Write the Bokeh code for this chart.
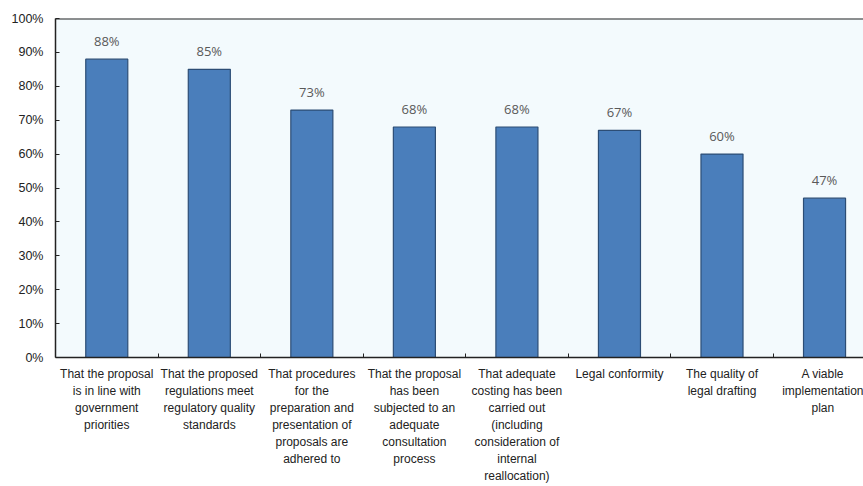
from bokeh.plotting import figure
from bokeh.models import Range1d, FixedTicker, Span, ColumnDataSource
from bokeh.core.properties import value
from bokeh.embed import file_html
from bokeh.resources import INLINE

categories = [
    "That the proposal\nis in line with\ngovernment\npriorities",
    "That the proposed\nregulations meet\nregulatory quality\nstandards",
    "That procedures\nfor the\npreparation and\npresentation of\nproposals are\nadhered to",
    "That the proposal\nhas been\nsubjected to an\nadequate\nconsultation\nprocess",
    "That adequate\ncosting has been\ncarried out\n(including\nconsideration of\ninternal\nreallocation)",
    "Legal conformity",
    "The quality of\nlegal drafting",
    "A viable\nimplementation\nplan",
]
values = [88, 85, 73, 68, 68, 67, 60, 47]
y_ticks = [0, 10, 20, 30, 40, 50, 60, 70, 80, 90, 100]

x_pos = [i + 0.5 for i in range(len(categories))]
labels = [f"{v}%" for v in values]
src = ColumnDataSource(dict(x=x_pos, top=values, label=labels))

p = figure(width=863, height=486, output_backend="svg", toolbar_location=None,
           x_range=Range1d(0, 7.88), y_range=Range1d(0, 100),
           min_border_left=55, min_border_right=0, min_border_top=18, min_border_bottom=129)
p.background_fill_color = "#f3fafd"
p.border_fill_color = "white"
p.outline_line_color = None
p.grid.visible = False

p.vbar(x="x", top="top", width=0.41, bottom=0, source=src,
       fill_color="#4a7ebb", line_color="#2c4d75", line_width=1.2)
p.text(x="x", y="top", text="label", source=src, y_offset=-9,
       text_align="center", text_baseline="bottom",
       text_font=value("Open Sans"), text_font_size="13px", text_color="#595959")

p.add_layout(Span(location=100, dimension="width", line_color="#222222", line_width=2))

# x axis
xa = p.xaxis[0]
xa.ticker = FixedTicker(ticks=x_pos, minor_ticks=[float(i) for i in range(1, 8)])
xa.major_label_overrides = {x: c for x, c in zip(x_pos, categories)}
xa.major_tick_line_color = None
xa.minor_tick_in = 4
xa.minor_tick_out = 0
xa.minor_tick_line_color = "#222222"
xa.axis_line_color = "#222222"
xa.axis_line_width = 1.5
xa.major_label_text_font = "Liberation Sans"
xa.major_label_text_font_size = "12px"
xa.major_label_text_color = "#222222"
xa.major_label_text_line_height = 1.22
xa.major_label_standoff = 3

ya = p.yaxis[0]
ya.ticker = FixedTicker(ticks=y_ticks)
ya.major_label_overrides = {t: f"{t}%" for t in y_ticks}
ya.major_tick_in = 4
ya.major_tick_out = 0
ya.minor_tick_line_color = None
ya.axis_line_color = "#222222"
ya.axis_line_width = 1.5
ya.major_tick_line_color = "#222222"
ya.major_label_text_font = "Liberation Sans"
ya.major_label_text_font_size = "12.5px"
ya.major_label_text_color = "#222222"
ya.major_label_standoff = 12

open("out.html", "w").write(file_html(p, INLINE))
